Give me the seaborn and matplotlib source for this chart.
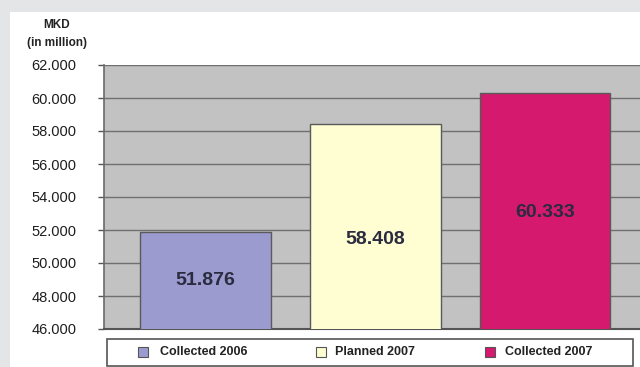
import matplotlib
matplotlib.use("Agg")
import matplotlib.pyplot as plt
from matplotlib.patches import Rectangle
import seaborn as sns
import pandas as pd

# Budget revenue, MKD (in million)
categories = ["Collected 2006", "Planned 2007", "Collected 2007"]
values = [51876, 58408, 60333]
value_labels = ["51.876", "58.408", "60.333"]
bar_colors = ["#9c9bd0", "#fefed2", "#d4196f"]
y_ticks = [46000, 48000, 50000, 52000, 54000, 56000, 58000, 60000, 62000]
y_tick_labels = ["46.000", "48.000", "50.000", "52.000", "54.000",
                 "56.000", "58.000", "60.000", "62.000"]

sns.set_theme(style="white")
plt.rcParams["font.family"] = ["Liberation Sans", "DejaVu Sans"]

W, H = 640, 367
fig = plt.figure(figsize=(W / 100, H / 100), dpi=100, facecolor="#e4e5e7")

def px(x0, y0, w, h):
    """Convert a pixel box (top-left origin) to figure fractions."""
    return [x0 / W, 1 - (y0 + h) / H, w / W, h / H]

# white page area behind everything
page = px(10, 12, 630, 355)
fig.patches.append(Rectangle((page[0], page[1]), page[2], page[3],
                             transform=fig.transFigure, facecolor="white",
                             edgecolor="none", zorder=-10))

ax = fig.add_axes(px(104, 65, 570, 264))
ax.set_facecolor("#c2c2c2")

df = pd.DataFrame({"category": categories, "value": values})
sns.barplot(data=df, x="category", y="value", hue="category",
            palette=bar_colors, saturation=1, legend=False, width=0.77,
            edgecolor="#5a5a5a", linewidth=1.0, ax=ax, zorder=3)

ax.set_ylim(46000, 62000)
ax.set_xlim(-0.597, 2.76)
ax.set_yticks(y_ticks)
ax.set_yticklabels(y_tick_labels)
ax.yaxis.grid(True, color="#6f6f6f", linewidth=1.0, zorder=1)
ax.set_axisbelow(True)
ax.set_xlabel("")
ax.set_ylabel("")
ax.set_xticks([])
ax.tick_params(axis="y", which="both", left=True, length=4, width=1.0,
               color="#555555", labelsize=10.5, labelcolor="#1e1e1e", pad=16)
for side in ["top", "right"]:
    ax.spines[side].set_visible(False)
ax.spines["left"].set_color("#6a6a6a")
ax.spines["left"].set_linewidth(1.2)
ax.spines["bottom"].set_color("#555555")
ax.spines["bottom"].set_linewidth(1.5)

# value labels inside the bars
label_heights = [48950, 51400, 53050]
for i, (v, txt, ly) in enumerate(zip(values, value_labels, label_heights)):
    ax.text(i, ly, txt, ha="center", va="center", fontsize=14,
            fontweight="bold", color="#2b2b40", zorder=5)

# unit caption
fig.text(57 / W, 1 - 25 / H, "MKD", ha="center", va="center",
         fontsize=8.5, fontweight="bold", color="#222222")
fig.text(57 / W, 1 - 43 / H, "(in million)", ha="center", va="center",
         fontsize=8.5, fontweight="bold", color="#222222")

# legend box
lb = px(107, 339, 526, 27)
fig.patches.append(Rectangle((lb[0], lb[1]), lb[2], lb[3],
                             transform=fig.transFigure, facecolor="white",
                             edgecolor="#555555", linewidth=1.2, zorder=2))
marker_x = [143, 321, 490]
text_x = [160, 335, 505]
cy = 352
for mx, tx, col, name in zip(marker_x, text_x, bar_colors, categories):
    m = px(mx - 5, cy - 5, 10, 10)
    fig.patches.append(Rectangle((m[0], m[1]), m[2], m[3],
                                 transform=fig.transFigure, facecolor=col,
                                 edgecolor="#555555", linewidth=0.8, zorder=3))
    fig.text(tx / W, 1 - cy / H, name, ha="left", va="center",
             fontsize=9, fontweight="bold", color="#222222")

fig.savefig("out.png", dpi=100, facecolor=fig.get_facecolor())
